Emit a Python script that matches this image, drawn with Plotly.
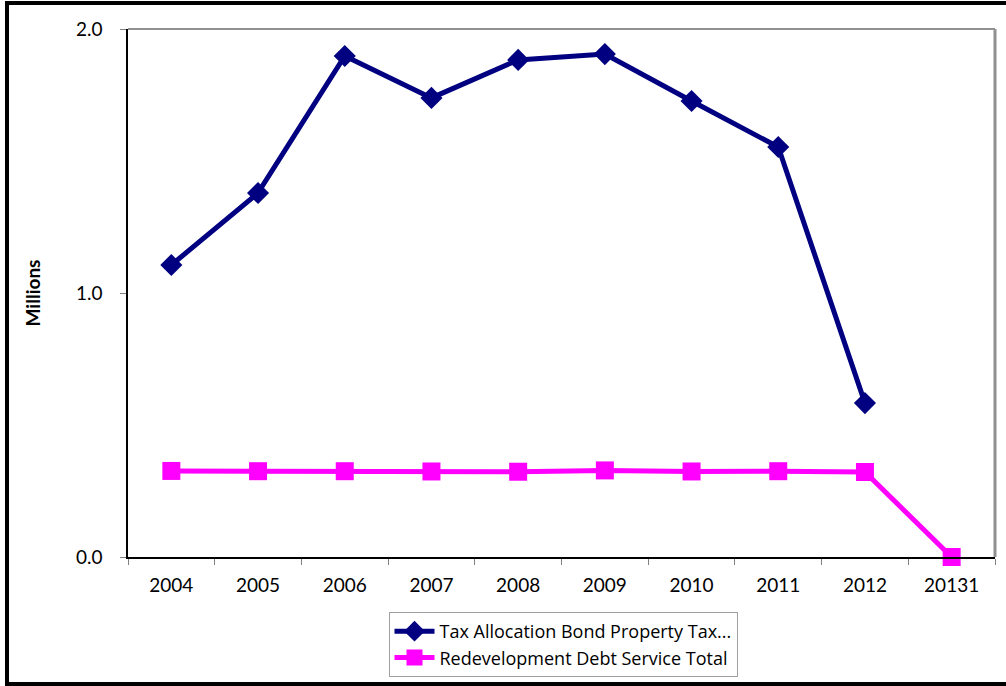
import plotly.graph_objects as go

categories = ["2004", "2005", "2006", "2007", "2008", "2009", "2010", "2011", "2012", "20131"]
tax_allocation = [1.106, 1.379, 1.898, 1.739, 1.883, 1.905, 1.727, 1.553, 0.583, None]
debt_service = [0.326, 0.325, 0.325, 0.324, 0.323, 0.328, 0.324, 0.325, 0.322, 0.0]

W, H = 1006, 686
L, R, T, B = 128, 11, 29, 129
PW, PH = W - L - R, H - T - B

def px(x):
    return (x - L) / PW

def py(y):
    return (H - B - y) / PH

fig = go.Figure()
fig.add_trace(go.Scatter(
    x=categories, y=tax_allocation, mode="lines+markers",
    name="Tax Allocation Bond Property Tax...",
    line=dict(color="#000080", width=5),
    marker=dict(symbol="diamond", size=17, color="#000080"),
    cliponaxis=False,
))
fig.add_trace(go.Scatter(
    x=categories, y=debt_service, mode="lines+markers",
    name="Redevelopment Debt Service Total",
    line=dict(color="#FF00FF", width=5),
    marker=dict(symbol="square", size=18, color="#FF00FF"),
    cliponaxis=False,
))

font = "Lato, 'Open Sans', sans-serif"
fig.update_layout(
    width=W, height=H,
    margin=dict(l=L, r=R, t=T, b=B, autoexpand=False),
    paper_bgcolor="white", plot_bgcolor="white",
    font=dict(family=font, size=19, color="black"),
    showlegend=True,
    legend=dict(
        x=px(563), y=py(612), xanchor="center", yanchor="top",
        bordercolor="#A0A0A0", borderwidth=1, bgcolor="white",
        font=dict(family="'Open Sans', sans-serif", size=18, color="black"),
        tracegroupgap=0, itemwidth=40,
    ),
    xaxis=dict(
        type="category", range=[-0.5, 9.5], tickson="boundaries",
        ticks="outside", ticklen=6, tickcolor="#808080",
        showline=True, linecolor="black", linewidth=1.5,
        showgrid=False, zeroline=False, fixedrange=True,
        tickfont=dict(size=19), ticklabelstandoff=10,
    ),
    yaxis=dict(
        range=[0, 2.0], tickvals=[0, 1, 2], tickformat=".1f",
        ticks="outside", ticklen=6, tickcolor="#808080",
        showline=True, linecolor="black", linewidth=1.5,
        showgrid=False, zeroline=False, fixedrange=True,
        title=dict(text="<b>Millions</b>", font=dict(size=19), standoff=30),
        tickfont=dict(size=19), ticklabelstandoff=14,
    ),
    shapes=[
        # plot-area top and right borders (gray)
        dict(type="line", xref="paper", yref="paper", x0=0, x1=1, y0=1, y1=1,
             line=dict(color="#909090", width=2)),
        dict(type="line", xref="paper", yref="paper", x0=1, x1=1, y0=0, y1=1,
             line=dict(color="#909090", width=3)),
        # outer chart border
        dict(type="rect", xref="paper", yref="paper",
             x0=px(7), x1=px(1020), y0=py(684), y1=py(3),
             line=dict(color="black", width=4), layer="below"),
    ],
)

fig.write_html("out.html", config={"displayModeBar": False},
               post_script="document.body.style.margin='0';")
